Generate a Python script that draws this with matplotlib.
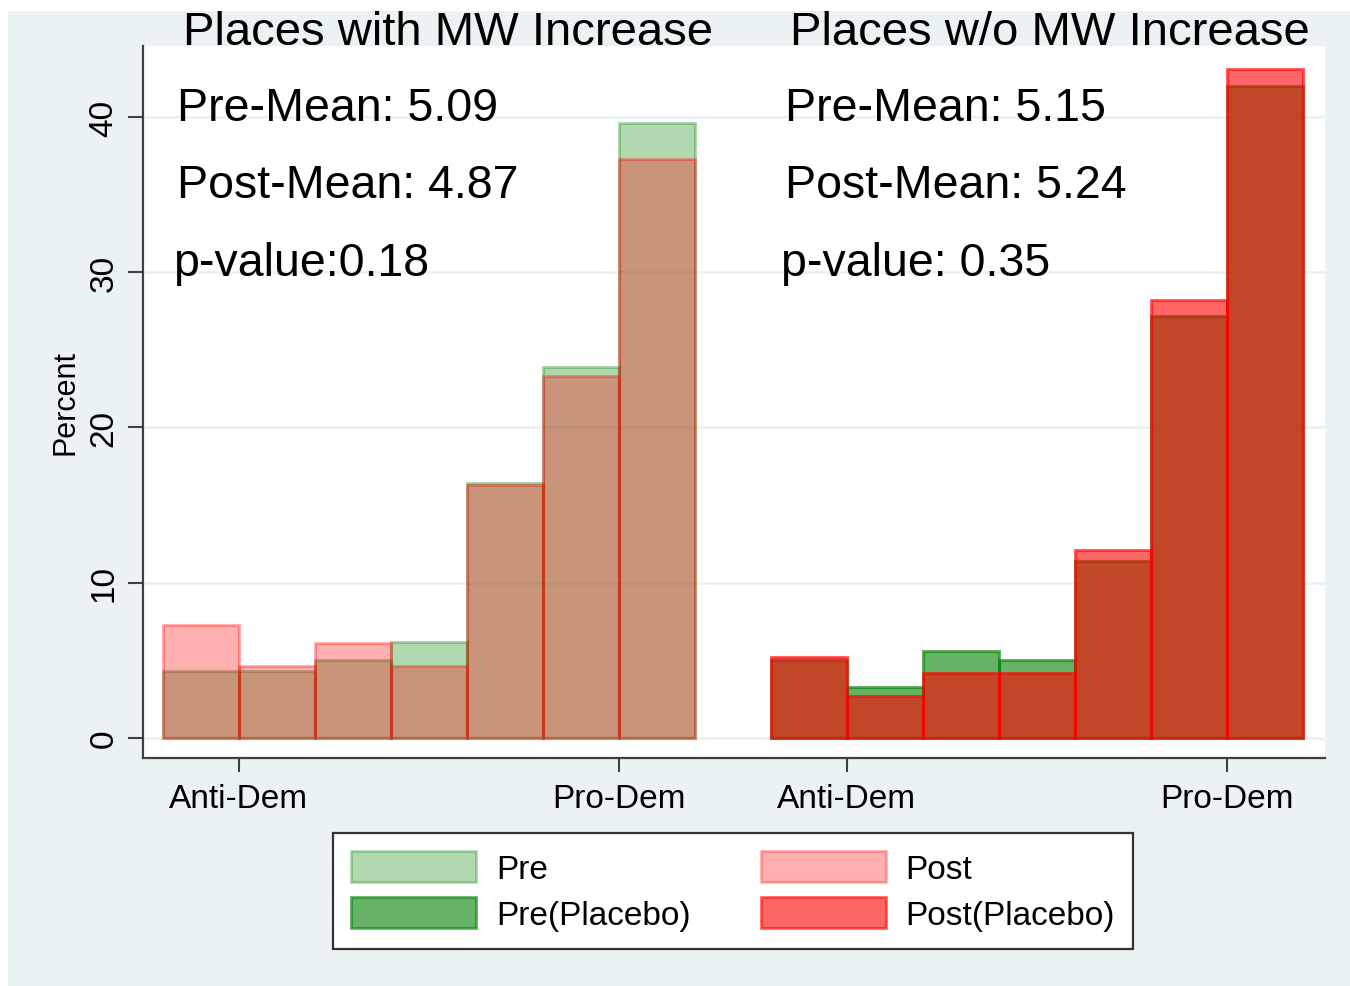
import matplotlib
matplotlib.use("Agg")
import matplotlib.pyplot as plt
import matplotlib.patches as mpatches
import numpy as np

plt.rcParams['font.family'] = ['Liberation Sans', 'DejaVu Sans']

# Percent of responses in each of the 7 categories (Anti-Dem ... Pro-Dem)
pre_mw = [4.3, 4.3, 5.0, 6.2, 16.4, 23.9, 39.6]
post_mw = [7.3, 4.6, 6.1, 4.6, 16.3, 23.3, 37.3]
pre_placebo = [5.0, 3.3, 5.6, 5.0, 11.4, 27.2, 42.0]
post_placebo = [5.2, 2.7, 4.2, 4.2, 12.1, 28.2, 43.1]

group_titles = ['Places with MW Increase', 'Places w/o MW Increase']
stats_mw = ['Pre-Mean: 5.09', 'Post-Mean: 4.87', 'p-value:0.18']
stats_placebo = ['Pre-Mean: 5.15', 'Post-Mean: 5.24', 'p-value: 0.35']
tick_labels = ['Anti-Dem', 'Pro-Dem', 'Anti-Dem', 'Pro-Dem']

x_left = np.arange(1, 8)
x_right = np.arange(9, 16)

GREEN = (0.0, 0.5, 0.0)
RED = (1.0, 0.0, 0.0)

fig = plt.figure(figsize=(13.5, 9.87), dpi=100, facecolor='white')

# light blue-grey graph region behind everything
bg = mpatches.Rectangle((8 / 1350, 0), 1 - 8 / 1350, (987 - 12) / 987,
                        transform=fig.transFigure, facecolor='#EAF2F3',
                        edgecolor='none', zorder=-10)
fig.add_artist(bg)

ax = fig.add_axes([143 / 1350, 1 - 759 / 987, (1325 - 143) / 1350, (759 - 47) / 987])
ax.set_facecolor('white')
ax.set_axisbelow(True)

bar_kw = dict(width=1.0, align='center', linewidth=2.2)
ax.bar(x_left, pre_mw, facecolor=GREEN, edgecolor=GREEN, alpha=0.30, **bar_kw)
ax.bar(x_left, post_mw, facecolor=RED, edgecolor=RED, alpha=0.31, **bar_kw)
ax.bar(x_right, pre_placebo, facecolor=GREEN, edgecolor=GREEN, alpha=0.60, **bar_kw)
ax.bar(x_right, post_placebo, facecolor=RED, edgecolor=RED, alpha=0.60, **bar_kw)

ax.set_xlim(0.237, 15.79)
ax.set_ylim(-1.3, 44.58)

ax.set_yticks([0, 10, 20, 30, 40])
ax.set_xticks([1.5, 6.5, 9.5, 14.5])
ax.set_xticklabels(tick_labels)
ax.tick_params(axis='x', labelsize=24, length=10, width=1.5, color='#404040', pad=8)
ax.tick_params(axis='y', labelsize=24, length=11, width=1.5, color='#404040',
               pad=6, labelrotation=90)
for lab in ax.get_yticklabels():
    lab.set_va('center')

ax.yaxis.grid(True, color='#EAF2F3', linewidth=2)
ax.xaxis.grid(False)
for side in ['top', 'right']:
    ax.spines[side].set_visible(False)
for side in ['left', 'bottom']:
    ax.spines[side].set_color('#404040')
    ax.spines[side].set_linewidth(1.6)

ax.set_ylabel('Percent', fontsize=22, labelpad=6)

# summary statistics for each group
x_offsets = [0.0, 0.0, -0.05]
for i, (a, b) in enumerate(zip(stats_mw, stats_placebo)):
    y = 40.6 - 5 * i
    ax.text(0.684 + x_offsets[i], y, a, fontsize=33.5, ha='left', va='center')
    ax.text(8.68 + x_offsets[i], y, b, fontsize=33.5, ha='left', va='center')

# group titles above the plot region
fig.text(448 / 1350, 1 - 45 / 987, group_titles[0], fontsize=34,
         ha='center', va='baseline', zorder=1)
fig.text(1050 / 1350, 1 - 45 / 987, group_titles[1], fontsize=34,
         ha='center', va='baseline', zorder=1)
top_band = mpatches.Rectangle((0, 1 - 12 / 987), 1, 12 / 987,
                              transform=fig.transFigure, facecolor='white',
                              edgecolor='none', zorder=5)
fig.add_artist(top_band)

handles = [
    mpatches.Patch(facecolor=GREEN, edgecolor=GREEN, alpha=0.30, linewidth=2),
    mpatches.Patch(facecolor=GREEN, edgecolor=GREEN, alpha=0.60, linewidth=2),
    mpatches.Patch(facecolor=RED, edgecolor=RED, alpha=0.31, linewidth=2),
    mpatches.Patch(facecolor=RED, edgecolor=RED, alpha=0.60, linewidth=2),
]
labels = ['Pre', 'Pre(Placebo)', 'Post', 'Post(Placebo)']
leg = fig.legend(handles, labels, loc='center', bbox_to_anchor=(733 / 1350, 1 - 892 / 987),
                 ncol=2, fontsize=24, handlelength=3.75, handleheight=1.05,
                 labelspacing=0.36, handletextpad=0.6, columnspacing=2.1,
                 borderpad=0.55, fancybox=False, framealpha=1)
leg.get_frame().set_edgecolor('#333333')
leg.get_frame().set_linewidth(1.6)

fig.savefig('out.png', dpi=100, facecolor='white')
